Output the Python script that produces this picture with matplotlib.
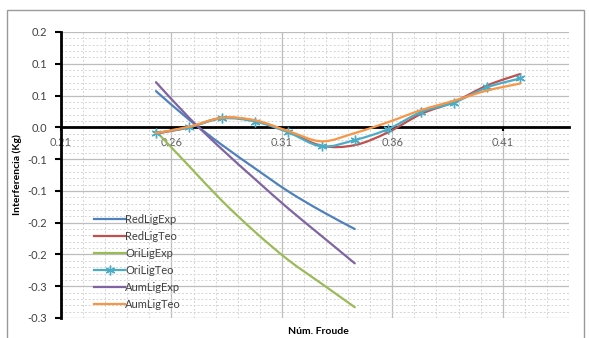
import matplotlib
matplotlib.use("Agg")
import matplotlib.pyplot as plt
from matplotlib.path import Path
from matplotlib.patches import PathPatch, Rectangle
from matplotlib.lines import Line2D
import numpy as np

plt.rcParams['font.family'] = ['Lato', 'DejaVu Sans']

# ---- data ----
x_exp = [0.253, 0.268, 0.283, 0.298, 0.313, 0.328, 0.343]
red_lig_exp = [0.057, 0.012, -0.028, -0.065, -0.101, -0.132, -0.160]
ori_lig_exp = [-0.006, -0.061, -0.116, -0.165, -0.209, -0.246, -0.283]
aum_lig_exp = [0.071, 0.015, -0.035, -0.082, -0.128, -0.171, -0.214]

x_teo = [0.253, 0.268, 0.283, 0.298, 0.313, 0.328, 0.343, 0.358, 0.373, 0.388, 0.403, 0.418]
red_lig_teo = [-0.010, 0.000, 0.015, 0.010, -0.007, -0.029, -0.028, -0.008, 0.021, 0.040, 0.066, 0.084]
ori_lig_teo = [-0.009, 0.000, 0.014, 0.009, -0.008, -0.030, -0.020, -0.003, 0.024, 0.039, 0.063, 0.077]
aum_lig_teo = [-0.009, 0.001, 0.015, 0.011, -0.006, -0.022, -0.009, 0.008, 0.027, 0.042, 0.058, 0.069]

series_names = ["RedLigExp", "RedLigTeo", "OriLigExp", "OriLigTeo", "AumLigExp", "AumLigTeo"]
series_colors = ["#4F81BD", "#C0504D", "#9BBB59", "#4BACC6", "#8064A2", "#F79646"]

x_ticks = [0.21, 0.26, 0.31, 0.36, 0.41]
x_ticklabels = ["0.21", "0.26", "0.31", "0.36", "0.41"]
y_ticks = [0.15, 0.10, 0.05, 0.0, -0.05, -0.10, -0.15, -0.20, -0.25, -0.30]
y_ticklabels = ["0.2", "0.1", "0.1", "0.0", "-0.1", "-0.1", "-0.2", "-0.2", "-0.3", "-0.3"]

# ---- figure ----
W, H = 589, 338
fig = plt.figure(figsize=(W / 100, H / 100), dpi=100)
fig.patch.set_facecolor("white")

# chart area border
fig.patches.append(Rectangle((7 / W, -0.05), (584 - 7) / W, (H - 10) / H + 0.05,
                             transform=fig.transFigure, fill=False,
                             edgecolor="#9a9a9a", linewidth=1.0))

ax = fig.add_axes([61 / W, 1 - 318 / H, (569 - 61) / W, (318 - 32) / H])
ax.set_xlim(0.21, 0.44)
ax.set_ylim(-0.30, 0.15)


def smooth_path(xs, ys):
    pts = np.column_stack([xs, ys]).astype(float)
    n = len(pts)
    verts = [pts[0]]
    codes = [Path.MOVETO]
    for i in range(n - 1):
        p0 = pts[i - 1] if i > 0 else pts[i]
        p1 = pts[i]
        p2 = pts[i + 1]
        p3 = pts[i + 2] if i + 2 < n else pts[i + 1]
        c1 = p1 + (p2 - p0) / 6.0
        c2 = p2 - (p3 - p1) / 6.0
        verts += [c1, c2, p2]
        codes += [Path.CURVE4] * 3
    return Path(verts, codes)


data = [(x_exp, red_lig_exp), (x_teo, red_lig_teo), (x_exp, ori_lig_exp),
        (x_teo, ori_lig_teo), (x_exp, aum_lig_exp), (x_teo, aum_lig_teo)]

lw = 1.6
handles = []
for k, ((xs, ys), name, col) in enumerate(zip(data, series_names, series_colors)):
    patch = PathPatch(smooth_path(xs, ys), facecolor="none", edgecolor=col,
                      linewidth=lw, zorder=3 + k, capstyle="round")
    ax.add_patch(patch)
    if name == "OriLigTeo":
        ax.plot(xs, ys, linestyle="none", marker=(6, 2, 0), markersize=7,
                markeredgecolor=col, markeredgewidth=1.0, zorder=3 + k)
        handles.append(Line2D([], [], color=col, linewidth=lw, marker=(6, 2, 0),
                              markersize=7, markeredgecolor=col, markeredgewidth=1.0))
    else:
        handles.append(Line2D([], [], color=col, linewidth=lw))

# grid
ax.set_xticks(x_ticks)
ax.set_xticks(np.round(np.arange(0.22, 0.44 + 1e-9, 0.01), 2), minor=True)
ax.set_yticks(y_ticks)
ax.set_yticks(np.round(np.arange(-0.30, 0.15 + 1e-9, 0.01), 2), minor=True)
ax.grid(True, which="major", color="#bdbdbd", linewidth=0.9, linestyle="-", zorder=0)
ax.grid(True, which="minor", color="#d4d4d4", linewidth=0.7, linestyle=(0, (2, 2)), zorder=0)
ax.axvline(0.44, color="#d4d4d4", linewidth=0.7, linestyle=(0, (2, 2)), zorder=0)
ax.set_axisbelow(True)

ax.set_xticklabels(x_ticklabels)
ax.set_yticklabels(y_ticklabels)

for s in ["top", "right"]:
    ax.spines[s].set_visible(False)
ax.spines["left"].set_color("black")
ax.spines["left"].set_linewidth(2.0)
ax.spines["bottom"].set_position(("data", 0))
ax.spines["bottom"].set_color("black")
ax.spines["bottom"].set_linewidth(2.0)
ax.spines["bottom"].set_zorder(2.5)

ax.tick_params(axis="both", which="minor", length=0)
ax.tick_params(axis="y", which="major", length=4, width=1.5, color="black",
               labelsize=8, labelcolor="#404040", pad=6)
ax.tick_params(axis="x", which="major", length=3, width=1.5, color="black",
               labelsize=8, labelcolor="#606060", pad=4)

ax.set_ylabel("Interferencia (Kg)", fontsize=7.5, fontweight="bold", labelpad=4)
fig.text(318 / W, 1 - 332 / H, "Núm. Froude", fontsize=7.5, fontweight="bold",
         ha="center", va="center")

leg = ax.legend(handles, series_names, loc="lower left", bbox_to_anchor=(0.05, 0.0),
                frameon=False, fontsize=8, handlelength=2.8, handletextpad=0.0,
                labelspacing=0.55, borderaxespad=0.3)
for t in leg.get_texts():
    t.set_color("#404040")

fig.savefig("out.png", dpi=100, facecolor="white")
